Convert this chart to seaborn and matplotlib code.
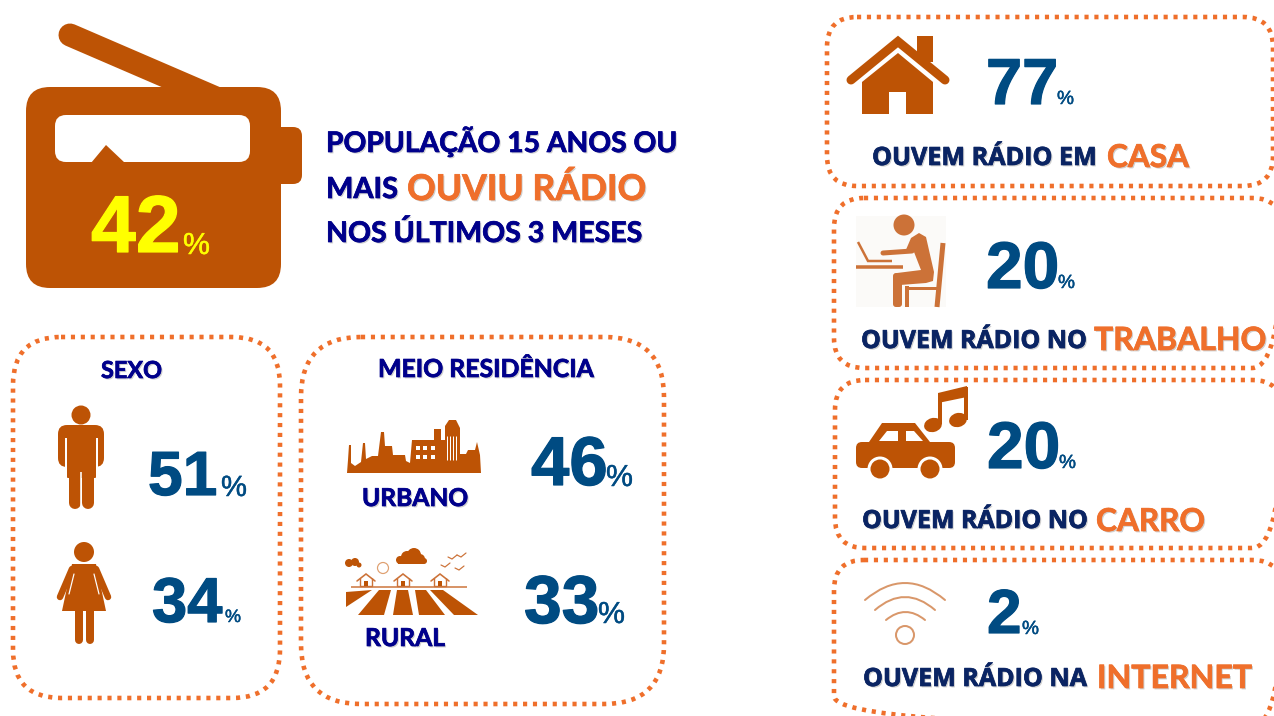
import matplotlib
matplotlib.use('Agg')
import matplotlib.pyplot as plt
import matplotlib.patheffects as pe
from matplotlib.patches import Circle, Ellipse, FancyBboxPatch, PathPatch, Polygon, Rectangle
from matplotlib.path import Path
import seaborn as sns

# values shown in the picture
total_value = 42
sexo_labels = ['Homens', 'Mulheres']
sexo_values = [51, 34]
meio_labels = ['URBANO', 'RURAL']
meio_values = [46, 33]
local_labels = ['CASA', 'TRABALHO', 'CARRO', 'INTERNET']
local_prefix = ['OUVEM RÁDIO EM', 'OUVEM RÁDIO NO', 'OUVEM RÁDIO NO', 'OUVEM RÁDIO NA']
local_values = [77, 20, 20, 2]

BROWN = '#BD5305'
ORANGE = '#EF6F2B'
LIGHT_BROWN = '#CC7238'
WIFI = '#D9976A'
HEAD_BLUE = '#00008B'
NAVY = '#0A2463'
NUM_BLUE = '#004B82'
YELLOW = '#FFFF00'

sns.set_theme(style='white')
plt.rcParams['font.family'] = ['Open Sans', 'DejaVu Sans']

fig = plt.figure(figsize=(12.74, 7.16), dpi=100, facecolor='white')
ax = fig.add_axes([0, 0, 1, 1])
ax.set_xlim(0, 1274)
ax.set_ylim(716, 0)
ax.axis('off')
sns.despine(ax=ax, left=True, bottom=True)
renderer = fig.canvas.get_renderer()
PX = 72 / fig.dpi


def fit_text(s, x0, x1, base, color, family='Lato', weight='bold', shadow=True, scale=1.0, stroke=0):
    # size the text so its width matches the span in the picture
    t = ax.text(x0, base, s, color=color, family=family, weight=weight,
                ha='left', va='baseline', fontsize=20, zorder=6)
    w = t.get_window_extent(renderer).width
    t.set_fontsize(20 * (x1 - x0) / w * scale)
    if shadow:
        t.set_path_effects([pe.SimplePatchShadow(offset=(1, -1), shadow_rgbFace='#777777', alpha=0.35),
                            pe.Stroke(linewidth=0.7 * PX, foreground=color), pe.Normal()])
    elif stroke:
        t.set_path_effects([pe.withStroke(linewidth=stroke * PX, foreground=color)])
    return t


def number(value, x0, x1, base, pct0, pct1, pct_base, color=NUM_BLUE):
    fit_text(str(value), x0, x1, base, color, family='Liberation Sans', shadow=False, scale=1.05, stroke=1.2)
    fit_text('%', pct0, pct1, pct_base, color, family='Liberation Sans', weight='normal',
             shadow=False, scale=1.0, stroke=0.5)


def dotted_box(x0, y0, x1, y1, r):
    ax.add_patch(FancyBboxPatch((x0 + r, y0 + r), x1 - x0 - 2 * r, y1 - y0 - 2 * r,
                                boxstyle=f'round,pad={r},rounding_size={r}', fill=False,
                                ec=ORANGE, lw=4.6 * PX, linestyle=(0, (0.9, 1.25)), capstyle='butt'))


def rbox(x0, y0, x1, y1, r, color, z=2):
    ax.add_patch(FancyBboxPatch((x0 + r, y0 + r), x1 - x0 - 2 * r, y1 - y0 - 2 * r,
                                boxstyle=f'round,pad={r},rounding_size={r}', fc=color, ec='none', zorder=z))


def poly(pts, color, z=2):
    ax.add_patch(Polygon(pts, closed=True, fc=color, ec='none', zorder=z))


def line(xs, ys, color, w, cap='round', z=2):
    ax.plot(xs, ys, color=color, lw=w * PX, solid_capstyle=cap, solid_joinstyle='miter', zorder=z)


def circle(x, y, r, color, z=3):
    ax.add_patch(Circle((x, y), r, fc=color, ec='none', zorder=z))


def ring(x, y, r, color, w, z=3):
    ax.add_patch(Circle((x, y), r, fc='none', ec=color, lw=w * PX, zorder=z))


def arc(x0, x1, y_end, y_top, color, w):
    verts = [(x0, y_end), ((x0 + x1) / 2, 2 * y_top - y_end), (x1, y_end)]
    ax.add_patch(PathPatch(Path(verts, [Path.MOVETO, Path.CURVE3, Path.CURVE3]), fill=False,
                           ec=color, lw=w * PX, capstyle='round'))


# --- dotted frames
dotted_box(13, 337, 280, 698, 48)
dotted_box(301, 337, 664, 704, 60)
dotted_box(827, 17, 1273, 186, 30)
dotted_box(834, 198, 1282, 368, 30)
dotted_box(835, 380, 1282, 548, 30)
dotted_box(834, 560, 1282, 726, 30)

# --- radio
line([70, 230], [35, 104], BROWN, 23, z=1)
rbox(26, 87, 281, 288, 24, BROWN)
rbox(270, 127, 302, 184, 9, BROWN, z=1)
rbox(55, 115, 250, 162, 11, 'white', z=3)
poly([(91, 163), (106, 145), (125, 163)], BROWN, z=4)
fit_text(str(total_value), 91, 178, 252, YELLOW, family='Liberation Sans', shadow=False, scale=1.03, stroke=1.2)
fit_text('%', 183, 210, 254, YELLOW, family='Liberation Sans', weight='normal', shadow=False, scale=1.0, stroke=0.5)

fit_text('POPULAÇÃO 15 ANOS OU', 326, 677, 152, HEAD_BLUE)
fit_text('MAIS', 326, 398, 198, HEAD_BLUE)
fit_text('OUVIU RÁDIO', 407, 646, 200, ORANGE)
fit_text('NOS ÚLTIMOS 3 MESES', 326, 642, 242, HEAD_BLUE)

# --- sexo
fit_text('SEXO', 101, 162, 378, HEAD_BLUE)
circle(81, 415, 9.5, BROWN)
rbox(58, 425, 104, 467, 9, BROWN)
for gx in [65, 96]:
    ax.add_patch(Rectangle((gx, 438), 2, 32, fc='white', ec='none', zorder=3))
rbox(67, 432, 96, 478, 1, BROWN, z=4)
line([74.5, 74.5], [472, 503], BROWN, 12, z=4)
line([87.5, 87.5], [472, 503], BROWN, 12, z=4)
line([81, 81], [472, 510], 'white', 1.6, cap='butt', z=5)

circle(84, 552, 10, BROWN)
poly([(72, 564), (96, 564), (106, 611), (62, 611)], BROWN)
line([72, 60], [569, 597], BROWN, 6.5)
line([96, 108], [569, 597], BROWN, 6.5)
line([74, 69], [574, 594], 'white', 1.2, z=3)
line([94, 99], [574, 594], 'white', 1.2, z=3)
line([78.5, 78.5], [611, 640], BROWN, 8)
line([90, 90], [611, 640], BROWN, 8)

number(sexo_values[0], 148, 214, 495, 221, 247, 496)
number(sexo_values[1], 152, 219, 622, 225, 241, 622)

# --- meio de residencia
fit_text('MEIO RESIDÊNCIA', 378, 594, 377, HEAD_BLUE)
skyline = [(347, 473), (348, 460), (349, 445), (351, 445), (351, 463), (355, 466), (361, 462), (363, 443),
           (365, 443), (366, 459), (372, 456), (378, 456), (381, 432), (384, 432), (385, 446), (392, 446),
           (393, 455), (405, 455), (406, 461), (410, 463), (412, 440), (434, 440), (434, 429), (441, 429),
           (441, 440), (445, 440), (445, 426), (449, 420), (456, 420), (460, 428), (460, 454), (466, 454),
           (468, 450), (475, 450), (477, 442), (480, 455), (481, 473)]
poly(skyline, BROWN)
for wx in [416, 423, 431]:
    for wy in [446, 455]:
        ax.add_patch(Rectangle((wx, wy), 4, 4, fc='white', ec='none', zorder=3))
for wx in [447, 450, 453, 456]:
    line([wx, wx], [436, 460], 'white', 1, cap='butt', z=3)
line([415, 433], [436.5, 436.5], 'white', 1, cap='butt', z=3)
fit_text(meio_labels[0], 362, 468, 506, HEAD_BLUE)

stripes = [[(346, 592), (372, 590), (346, 607)],
           [(379, 590), (391, 590), (384, 615), (358, 615)],
           [(397, 590), (408, 590), (413, 615), (393, 615)],
           [(415, 590), (426, 590), (445, 615), (419, 615)],
           [(430, 590), (443, 590), (478, 615), (454, 615)]]
for s in stripes:
    poly(s, BROWN)
line([351, 467], [587, 587], LIGHT_BROWN, 1.5, cap='butt')
for hx in [366, 403, 440]:
    line([hx - 9, hx, hx + 9], [581, 574, 581], LIGHT_BROWN, 1.6)
    line([hx - 6, hx - 6, hx + 6, hx + 6], [578, 586, 586, 578], LIGHT_BROWN, 1.4, cap='butt')
    ax.add_patch(Rectangle((hx - 2, 581), 4, 5, fc=BROWN, ec='none', zorder=3))
ring(383, 568, 5.5, '#DFA070', 1.2)
for cx, cy, cr in [(400, 560, 4), (407, 557, 6), (414, 555, 7), (420, 559, 5), (424, 561, 3)]:
    circle(cx, cy, cr, BROWN)
ax.add_patch(Rectangle((398, 559), 26, 5, fc=BROWN, ec='none', zorder=3))
for cx, cy, cr in [(349, 563, 4), (355, 562, 4), (359, 565, 2.5)]:
    circle(cx, cy, cr, BROWN)
for bx, by in [(441, 565), (448, 557), (455, 568), (457, 555)]:
    line([bx, bx + 4, bx + 9], [by, by + 2, by - 2], LIGHT_BROWN, 1.2)
fit_text(meio_labels[1], 365, 445, 646, HEAD_BLUE)

number(meio_values[0], 531, 604, 485, 606, 633, 486)
number(meio_values[1], 524, 596, 623, 598, 625, 623)

# --- casa
poly([(862, 82), (898, 53), (933, 82), (933, 114), (906, 114), (906, 92), (889, 92), (889, 114), (862, 114)], BROWN)
ax.add_patch(Rectangle((917, 36), 16, 26, fc=BROWN, ec='none', zorder=2))
line([851, 898, 945], [80, 41.5, 80], BROWN, 9, cap='round', z=3)
number(local_values[0], 986, 1055, 104, 1057, 1074, 104)
fit_text(local_prefix[0], 872, 1097, 165, NAVY, family='Open Sans')
fit_text(local_labels[0], 1107, 1189, 167, ORANGE)

# --- trabalho
ax.add_patch(Rectangle((856, 216), 90, 91, fc='#FBFAF8', ec='none', zorder=1))
circle(904, 225, 10.5, LIGHT_BROWN)
poly([(905, 252), (911, 238), (919, 233), (926, 237), (934, 272), (933, 281), (926, 283), (900, 285),
      (897, 273), (921, 270), (914, 252)], LIGHT_BROWN)
line([883, 912], [253, 251], LIGHT_BROWN, 5, cap='round')
rbox(893, 273, 902, 307, 3, LIGHT_BROWN)
line([858, 868, 892], [242, 261, 261], LIGHT_BROWN, 2.5, cap='butt')
line([856, 903], [267, 267], LIGHT_BROWN, 3.5, cap='butt')
line([943, 937], [243, 307], LIGHT_BROWN, 5, cap='butt')
line([907, 907], [286, 307], LIGHT_BROWN, 4, cap='butt')
line([906, 938], [288, 288], LIGHT_BROWN, 3, cap='butt')
number(local_values[1], 986, 1056, 288, 1058, 1075, 288)
fit_text(local_prefix[1], 861, 1087, 348, NAVY, family='Open Sans')
fit_text(local_labels[1], 1094, 1266, 350, ORANGE)

# --- carro
poly([(869, 442), (882, 423), (915, 423), (930, 442)], BROWN)
rbox(856, 442, 955, 468, 6, BROWN)
poly([(879, 441), (887, 431), (898, 431), (898, 441)], 'white', z=3)
poly([(906, 431), (914, 431), (923, 441), (906, 441)], 'white', z=3)
for wx in [880, 930]:
    circle(wx, 469, 12.5, 'white')
    circle(wx, 469, 9.5, BROWN, z=4)
circle(933, 425, 10, 'white', z=3)
ax.add_patch(Ellipse((933, 425), 18, 14, angle=-15, fc=BROWN, ec='none', zorder=4))
ax.add_patch(Ellipse((958, 420), 18, 14, angle=-15, fc=BROWN, ec='none', zorder=4))
line([939.5, 939.5], [394, 424], BROWN, 4, cap='butt', z=4)
line([965.5, 965.5], [387, 420], BROWN, 4, cap='butt', z=4)
poly([(938, 393), (967, 386), (967, 397), (938, 403)], BROWN, z=4)
number(local_values[2], 987, 1057, 468, 1059, 1076, 468)
fit_text(local_prefix[2], 862, 1088, 528, NAVY, family='Open Sans')
fit_text(local_labels[2], 1096, 1205, 531, ORANGE)

# --- internet
arc(865, 945, 600, 583, WIFI, 2)
arc(875, 935, 610, 597, WIFI, 2)
arc(886, 925, 620, 612, WIFI, 2)
ring(905, 635, 9, WIFI, 2)
number(local_values[3], 987, 1020, 633, 1022, 1039, 634)
fit_text(local_prefix[3], 863, 1087, 686, NAVY, family='Open Sans')
fit_text(local_labels[3], 1097, 1252, 688, ORANGE)

fig.savefig('out.png', dpi=100, facecolor='white')
